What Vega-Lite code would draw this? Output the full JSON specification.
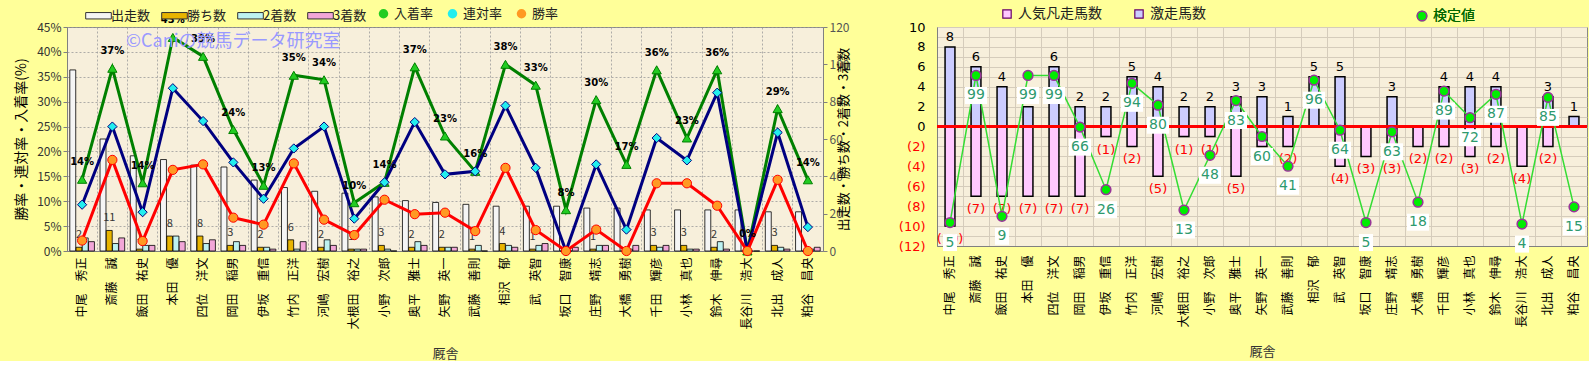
{
  "$schema": "https://vega.github.io/schema/vega-lite/v6.json",
  "background": "#FFFF99",
  "padding": {"left": 14, "top": 6, "right": 0, "bottom": 0},
  "config": {
    "font": "Noto Sans CJK JP",
    "view": {"fill": "#F7EFDB", "stroke": "#888888"},
    "axis": {"domainColor": "#808080", "tickColor": "#808080", "labelFont": "Noto Sans CJK JP", "titleFont": "Noto Sans CJK JP", "titleFontWeight": "normal", "labelOverlap": false},
    "legend": {"labelFont": "Noto Sans CJK JP", "labelFontSize": 13, "labelColor": "#222222"}
  },
  "datasets": {
    "L": [
      {"t": "中尾　秀正", "出走数": 97, "勝ち数": 2, "2着数": 7, "3着数": 5, "勝率": 2.1, "連対率": 9.3, "入着率": 14.4, "lab": "14%"},
      {"t": "斎藤　誠", "出走数": 60, "勝ち数": 11, "2着数": 4, "3着数": 7, "勝率": 18.3, "連対率": 25.0, "入着率": 36.7, "lab": "37%"},
      {"t": "飯田　祐史", "出走数": 51, "勝ち数": 1, "2着数": 3, "3着数": 3, "勝率": 2.0, "連対率": 7.8, "入着率": 13.7, "lab": "14%"},
      {"t": "本田　優", "出走数": 49, "勝ち数": 8, "2着数": 8, "3着数": 5, "勝率": 16.3, "連対率": 32.7, "入着率": 42.9, "lab": "43%"},
      {"t": "四位　洋文", "出走数": 46, "勝ち数": 8, "2着数": 4, "3着数": 6, "勝率": 17.4, "連対率": 26.1, "入着率": 39.1, "lab": "39%"},
      {"t": "岡田　稲男", "出走数": 45, "勝ち数": 3, "2着数": 5, "3着数": 3, "勝率": 6.7, "連対率": 17.8, "入着率": 24.4, "lab": "24%"},
      {"t": "伊坂　重信", "出走数": 38, "勝ち数": 2, "2着数": 2, "3着数": 1, "勝率": 5.3, "連対率": 10.5, "入着率": 13.2, "lab": "13%"},
      {"t": "竹内　正洋", "出走数": 34, "勝ち数": 6, "2着数": 1, "3着数": 5, "勝率": 17.6, "連対率": 20.6, "入着率": 35.3, "lab": "35%"},
      {"t": "河嶋　宏樹", "出走数": 32, "勝ち数": 2, "2着数": 6, "3着数": 3, "勝率": 6.3, "連対率": 25.0, "入着率": 34.4, "lab": "34%"},
      {"t": "大根田　裕之", "出走数": 31, "勝ち数": 1, "2着数": 1, "3着数": 1, "勝率": 3.2, "連対率": 6.5, "入着率": 9.7, "lab": "10%"},
      {"t": "小野　次郎", "出走数": 29, "勝ち数": 3, "2着数": 1, "3着数": 0, "勝率": 10.3, "連対率": 13.8, "入着率": 13.8, "lab": "14%"},
      {"t": "奥平　雅士", "出走数": 27, "勝ち数": 2, "2着数": 5, "3着数": 3, "勝率": 7.4, "連対率": 25.9, "入着率": 37.0, "lab": "37%"},
      {"t": "矢野　英一", "出走数": 26, "勝ち数": 2, "2着数": 2, "3着数": 2, "勝率": 7.7, "連対率": 15.4, "入着率": 23.1, "lab": "23%"},
      {"t": "武藤　善則", "出走数": 25, "勝ち数": 1, "2着数": 3, "3着数": 0, "勝率": 4.0, "連対率": 16.0, "入着率": 16.0, "lab": "16%"},
      {"t": "相沢　郁", "出走数": 24, "勝ち数": 4, "2着数": 3, "3着数": 2, "勝率": 16.7, "連対率": 29.2, "入着率": 37.5, "lab": "38%"},
      {"t": "武　英智", "出走数": 24, "勝ち数": 1, "2着数": 3, "3着数": 4, "勝率": 4.2, "連対率": 16.7, "入着率": 33.3, "lab": "33%"},
      {"t": "坂口　智康", "出走数": 24, "勝ち数": 0, "2着数": 0, "3着数": 2, "勝率": 0, "連対率": 0, "入着率": 8.3, "lab": "8%"},
      {"t": "庄野　靖志", "出走数": 23, "勝ち数": 1, "2着数": 3, "3着数": 3, "勝率": 4.3, "連対率": 17.4, "入着率": 30.4, "lab": "30%"},
      {"t": "大橋　勇樹", "出走数": 23, "勝ち数": 0, "2着数": 1, "3着数": 3, "勝率": 0, "連対率": 4.3, "入着率": 17.4, "lab": "17%"},
      {"t": "千田　輝彦", "出走数": 22, "勝ち数": 3, "2着数": 2, "3着数": 3, "勝率": 13.6, "連対率": 22.7, "入着率": 36.4, "lab": "36%"},
      {"t": "小林　真也", "出走数": 22, "勝ち数": 3, "2着数": 1, "3着数": 1, "勝率": 13.6, "連対率": 18.2, "入着率": 22.7, "lab": "23%"},
      {"t": "鈴木　伸尋", "出走数": 22, "勝ち数": 2, "2着数": 5, "3着数": 1, "勝率": 9.1, "連対率": 31.8, "入着率": 36.4, "lab": "36%"},
      {"t": "長谷川　浩大", "出走数": 22, "勝ち数": 0, "2着数": 0, "3着数": 0, "勝率": 0, "連対率": 0, "入着率": 0, "lab": "0%"},
      {"t": "北出　成人", "出走数": 21, "勝ち数": 3, "2着数": 2, "3着数": 1, "勝率": 14.3, "連対率": 23.8, "入着率": 28.6, "lab": "29%"},
      {"t": "粕谷　昌央", "出走数": 21, "勝ち数": 0, "2着数": 1, "3着数": 2, "勝率": 0, "連対率": 4.8, "入着率": 14.3, "lab": "14%"}
    ],
    "R": [
      {"t": "中尾　秀正", "激走馬数": 8, "人気凡走馬数": -10, "検定値": 5},
      {"t": "斎藤　誠", "激走馬数": 6, "人気凡走馬数": -7, "検定値": 99},
      {"t": "飯田　祐史", "激走馬数": 4, "人気凡走馬数": -7, "検定値": 9},
      {"t": "本田　優", "激走馬数": 2, "人気凡走馬数": -7, "検定値": 99},
      {"t": "四位　洋文", "激走馬数": 6, "人気凡走馬数": -7, "検定値": 99},
      {"t": "岡田　稲男", "激走馬数": 2, "人気凡走馬数": -7, "検定値": 66},
      {"t": "伊坂　重信", "激走馬数": 2, "人気凡走馬数": -1, "検定値": 26},
      {"t": "竹内　正洋", "激走馬数": 5, "人気凡走馬数": -2, "検定値": 94},
      {"t": "河嶋　宏樹", "激走馬数": 4, "人気凡走馬数": -5, "検定値": 80},
      {"t": "大根田　裕之", "激走馬数": 2, "人気凡走馬数": -1, "検定値": 13},
      {"t": "小野　次郎", "激走馬数": 2, "人気凡走馬数": -1, "検定値": 48},
      {"t": "奥平　雅士", "激走馬数": 3, "人気凡走馬数": -5, "検定値": 83},
      {"t": "矢野　英一", "激走馬数": 3, "人気凡走馬数": -2, "検定値": 60},
      {"t": "武藤　善則", "激走馬数": 1, "人気凡走馬数": -2, "検定値": 41},
      {"t": "相沢　郁", "激走馬数": 5, "人気凡走馬数": 0, "検定値": 96},
      {"t": "武　英智", "激走馬数": 5, "人気凡走馬数": -4, "検定値": 64},
      {"t": "坂口　智康", "激走馬数": 0, "人気凡走馬数": -3, "検定値": 5},
      {"t": "庄野　靖志", "激走馬数": 3, "人気凡走馬数": -3, "検定値": 63},
      {"t": "大橋　勇樹", "激走馬数": 0, "人気凡走馬数": -2, "検定値": 18},
      {"t": "千田　輝彦", "激走馬数": 4, "人気凡走馬数": -2, "検定値": 89},
      {"t": "小林　真也", "激走馬数": 4, "人気凡走馬数": -3, "検定値": 72},
      {"t": "鈴木　伸尋", "激走馬数": 4, "人気凡走馬数": -2, "検定値": 87},
      {"t": "長谷川　浩大", "激走馬数": 0, "人気凡走馬数": -4, "検定値": 4},
      {"t": "北出　成人", "激走馬数": 3, "人気凡走馬数": -2, "検定値": 85},
      {"t": "粕谷　昌央", "激走馬数": 1, "人気凡走馬数": 0, "検定値": 15}
    ],
    "W": [
      {"t": "岡田　稲男", "y": 42, "text": "©Caniの競馬データ研究室"}
    ]
  },
  "spacing": 45,
  "resolve": {
    "scale": {"x": "independent", "y": "independent", "fill": "independent", "stroke": "independent", "shape": "independent"},
    "legend": {"fill": "independent", "stroke": "independent", "shape": "independent"}
  },
  "hconcat": [
    {
      "width": 756,
      "height": 224,
      "data": {"name": "L"},
      "resolve": {"scale": {"y": "independent", "fill": "independent"}, "legend": {"fill": "independent"}},
      "layer": [
        {
          "layer": [
            {
              "transform": [{"fold": ["出走数", "勝ち数", "2着数", "3着数"], "as": ["series", "count"]}],
              "mark": {"type": "bar", "stroke": "#000000", "strokeWidth": 0.8},
              "encoding": {
                "x": {
                  "field": "t", "type": "nominal", "sort": null, "title": "厩舎",
                  "scale": {"paddingInner": 0, "paddingOuter": 0},
                  "axis": {"labelAngle": 270, "labelFontSize": 12, "labelColor": "#000000", "labelPadding": 6, "ticks": false, "grid": true, "bandPosition": 0, "gridColor": "#9A9A9A", "gridDash": [2, 2], "gridWidth": 0.8, "titleFontSize": 13, "titleColor": "#333333", "titlePadding": 18, "labelOverlap": false}
                },
                "xOffset": {"field": "series", "type": "nominal", "scale": {"domain": ["出走数", "勝ち数", "2着数", "3着数"], "paddingInner": 0.05, "paddingOuter": 0.45}},
                "y": {
                  "field": "count", "type": "quantitative", "title": "出走数・勝ち数・2着数・3着数",
                  "scale": {"domain": [0, 120]},
                  "axis": {"orient": "right", "values": [0, 20, 40, 60, 80, 100, 120], "labelOverlap": false, "grid": false, "titleAngle": 270, "titleFontSize": 13, "titleColor": "#000000", "labelFontSize": 12, "labelColor": "#555555", "titlePadding": 2, "tickSize": 4}
                },
                "fill": {
                  "field": "series", "type": "nominal",
                  "scale": {"domain": ["出走数", "勝ち数", "2着数", "3着数"], "range": ["#F5F5F5", "#E8B400", "#BDF2F2", "#F2A6D8"]},
                  "legend": {"title": null, "orient": "none", "direction": "horizontal", "legendX": 23, "legendY": -20, "symbolType": "M-1.6,-0.4H1.6V0.4H-1.6Z", "symbolSize": 256, "symbolStrokeColor": "#333333", "symbolStrokeWidth": 1, "columnPadding": 8, "labelFontSize": 13}
                }
              }
            },
            {
              "transform": [{"filter": "datum['勝ち数'] > 0"}],
              "mark": {"type": "text", "baseline": "bottom", "dy": -7, "fontSize": 11, "color": "#333333"},
              "encoding": {
                "x": {"field": "t", "type": "nominal", "sort": null, "title": "厩舎"},
                "xOffset": {"datum": "勝ち数"},
                "y": {
                  "field": "勝ち数", "type": "quantitative", "title": "出走数・勝ち数・2着数・3着数",
                  "axis": {"orient": "right", "values": [0, 20, 40, 60, 80, 100, 120], "labelOverlap": false, "grid": false, "titleAngle": 270, "titleFontSize": 13, "titleColor": "#000000", "labelFontSize": 12, "labelColor": "#555555", "titlePadding": 2, "tickSize": 4}
                },
                "text": {"field": "勝ち数", "type": "quantitative", "format": "d"}
              }
            }
          ]
        },
        {
          "layer": [
            {
              "transform": [{"fold": ["入着率", "連対率", "勝率"], "as": ["rs", "rate"]}],
              "mark": {"type": "line", "strokeWidth": 3},
              "encoding": {
                "x": {"field": "t", "type": "nominal", "sort": null, "title": "厩舎"},
                "y": {
                  "field": "rate", "type": "quantitative", "title": "勝率・連対率・入着率(%)",
                  "scale": {"domain": [0, 45]},
                  "axis": {"orient": "left", "values": [0, 5, 10, 15, 20, 25, 30, 35, 40, 45], "labelOverlap": false, "labelExpr": "datum.value + '%'", "grid": true, "gridColor": "#9A9A9A", "gridDash": [2, 2], "gridWidth": 0.8, "labelFontSize": 12, "labelColor": "#333333", "titleFontSize": 14, "titleColor": "#000000", "titlePadding": 8, "tickSize": 4}
                },
                "stroke": {
                  "field": "rs", "type": "nominal",
                  "scale": {"domain": ["入着率", "連対率", "勝率"], "range": ["#008000", "#000080", "#FF0000"]},
                  "legend": null
                }
              }
            },
            {
              "transform": [{"fold": ["入着率", "連対率", "勝率"], "as": ["rs", "rate"]}],
              "mark": {"type": "point", "filled": false, "opacity": 1, "strokeWidth": 1, "size": 85},
              "encoding": {
                "x": {"field": "t", "type": "nominal", "sort": null, "title": "厩舎"},
                "y": {
                  "field": "rate", "type": "quantitative", "title": "勝率・連対率・入着率(%)",
                  "axis": {"orient": "left", "values": [0, 5, 10, 15, 20, 25, 30, 35, 40, 45], "labelOverlap": false, "labelExpr": "datum.value + '%'", "grid": true, "gridColor": "#9A9A9A", "gridDash": [2, 2], "gridWidth": 0.8, "labelFontSize": 12, "labelColor": "#333333", "titleFontSize": 14, "titleColor": "#000000", "titlePadding": 8, "tickSize": 4}
                },
                "stroke": {"field": "rs", "type": "nominal", "legend": {"title": null, "orient": "none", "direction": "horizontal", "legendX": 310, "legendY": -20, "symbolSize": 90, "symbolStrokeWidth": 1.5, "columnPadding": 12, "labelFontSize": 13}},
                "fill": {
                  "field": "rs", "type": "nominal",
                  "scale": {"domain": ["入着率", "連対率", "勝率"], "range": ["#22CC22", "#22EEEE", "#FF9922"]},
                  "legend": {"title": null, "orient": "none", "direction": "horizontal", "legendX": 310, "legendY": -20, "symbolSize": 90, "symbolStrokeWidth": 1.5, "columnPadding": 12, "labelFontSize": 13}
                },
                "shape": {
                  "field": "rs", "type": "nominal",
                  "scale": {"domain": ["入着率", "連対率", "勝率"], "range": ["triangle-up", "diamond", "circle"]},
                  "legend": {"title": null, "orient": "none", "direction": "horizontal", "legendX": 310, "legendY": -20, "symbolSize": 90, "symbolStrokeWidth": 1.5, "columnPadding": 12, "labelFontSize": 13}
                }
              }
            },
            {
              "mark": {"type": "text", "baseline": "middle", "dy": -17, "fontSize": 10, "fontWeight": "bold", "color": "#000000", "font": "DejaVu Sans"},
              "encoding": {
                "x": {"field": "t", "type": "nominal", "sort": null, "title": "厩舎"},
                "y": {
                  "field": "入着率", "type": "quantitative", "title": "勝率・連対率・入着率(%)",
                  "axis": {"orient": "left", "values": [0, 5, 10, 15, 20, 25, 30, 35, 40, 45], "labelOverlap": false, "labelExpr": "datum.value + '%'", "grid": true, "gridColor": "#9A9A9A", "gridDash": [2, 2], "gridWidth": 0.8, "labelFontSize": 12, "labelColor": "#333333", "titleFontSize": 14, "titleColor": "#000000", "titlePadding": 8, "tickSize": 4}
                },
                "text": {"field": "lab", "type": "nominal"}
              }
            },
            {
              "data": {"name": "W"},
              "mark": {"type": "text", "baseline": "middle", "fontSize": 18, "color": "#9999FF"},
              "encoding": {
                "x": {"field": "t", "type": "nominal", "sort": null, "title": "厩舎"},
                "y": {
                  "field": "y", "type": "quantitative", "title": "勝率・連対率・入着率(%)",
                  "axis": {"orient": "left", "values": [0, 5, 10, 15, 20, 25, 30, 35, 40, 45], "labelOverlap": false, "labelExpr": "datum.value + '%'", "grid": true, "gridColor": "#9A9A9A", "gridDash": [2, 2], "gridWidth": 0.8, "labelFontSize": 12, "labelColor": "#333333", "titleFontSize": 14, "titleColor": "#000000", "titlePadding": 8, "tickSize": 4}
                },
                "text": {"field": "text", "type": "nominal"}
              }
            }
          ]
        }
      ]
    },
    {
      "width": 650,
      "height": 219,
      "data": {"name": "R"},
      "resolve": {"scale": {"y": "independent", "fill": "independent", "stroke": "independent"}, "legend": {"fill": "independent", "stroke": "independent"}},
      "layer": [
        {
          "layer": [
            {
              "transform": [{"fold": ["人気凡走馬数", "激走馬数"], "as": ["kind", "v"]}, {"filter": "datum.v != 0"}],
              "mark": {"type": "bar", "width": {"band": 0.38}, "stroke": "#000000", "strokeWidth": 1.5},
              "encoding": {
                "x": {
                  "field": "t", "type": "nominal", "sort": null, "title": "厩舎",
                  "scale": {"paddingInner": 0, "paddingOuter": 0},
                  "axis": {"labelAngle": 270, "labelFontSize": 12, "labelColor": "#000000", "labelPadding": 9, "ticks": false, "grid": true, "bandPosition": 0, "gridColor": "#D5CCBB", "gridWidth": 1, "titleFontSize": 13, "titleColor": "#333333", "titlePadding": 18, "labelOverlap": false}
                },
                "y": {
                  "field": "v", "type": "quantitative", "title": null,
                  "scale": {"domain": [-12, 10]},
                  "axis": {"orient": "left", "values": [-12, -11, -10, -9, -8, -7, -6, -5, -4, -3, -2, -1, 0, 1, 2, 3, 4, 5, 6, 7, 8, 9, 10], "labelOverlap": false, "labelExpr": "datum.value % 2 != 0 ? '' : (datum.value < 0 ? '(' + (-datum.value) + ')' : '' + datum.value)", "labelColor": {"condition": {"test": "datum.value < 0", "value": "#FF0000"}, "value": "#000000"}, "grid": true, "gridColor": "#D5CCBB", "ticks": false, "labelFontSize": 13, "labelPadding": 12, "labelFont": "DejaVu Sans"}
                },
                "fill": {
                  "field": "kind", "type": "nominal",
                  "scale": {"domain": ["人気凡走馬数", "激走馬数"], "range": ["#FFC8FF", "#CCCCFF"]},
                  "legend": {"title": null, "orient": "none", "direction": "horizontal", "legendX": 63, "legendY": -20, "symbolType": "square", "symbolSize": 70, "symbolStrokeColor": "#660066", "symbolStrokeWidth": 1.2, "columnPadding": 30, "labelFontSize": 14}
                }
              }
            },
            {
              "mark": {"type": "rule", "color": "#FF0000", "strokeWidth": 3},
              "encoding": {
                "y": {
                  "datum": 0, "title": null,
                  "axis": {"orient": "left", "values": [-12, -11, -10, -9, -8, -7, -6, -5, -4, -3, -2, -1, 0, 1, 2, 3, 4, 5, 6, 7, 8, 9, 10], "labelOverlap": false, "labelExpr": "datum.value % 2 != 0 ? '' : (datum.value < 0 ? '(' + (-datum.value) + ')' : '' + datum.value)", "labelColor": {"condition": {"test": "datum.value < 0", "value": "#FF0000"}, "value": "#000000"}, "grid": true, "gridColor": "#D5CCBB", "ticks": false, "labelFontSize": 13, "labelPadding": 12, "labelFont": "DejaVu Sans"}
                }
              }
            },
            {
              "transform": [{"filter": "datum['激走馬数'] > 0"}],
              "mark": {"type": "text", "baseline": "bottom", "dy": -3, "fontSize": 13, "color": "#000000", "font": "DejaVu Sans"},
              "encoding": {
                "x": {"field": "t", "type": "nominal", "sort": null, "title": "厩舎"},
                "y": {
                  "field": "激走馬数", "type": "quantitative", "title": null,
                  "axis": {"orient": "left", "values": [-12, -11, -10, -9, -8, -7, -6, -5, -4, -3, -2, -1, 0, 1, 2, 3, 4, 5, 6, 7, 8, 9, 10], "labelOverlap": false, "labelExpr": "datum.value % 2 != 0 ? '' : (datum.value < 0 ? '(' + (-datum.value) + ')' : '' + datum.value)", "labelColor": {"condition": {"test": "datum.value < 0", "value": "#FF0000"}, "value": "#000000"}, "grid": true, "gridColor": "#D5CCBB", "ticks": false, "labelFontSize": 13, "labelPadding": 12, "labelFont": "DejaVu Sans"}
                },
                "text": {"field": "激走馬数", "type": "quantitative", "format": "d"}
              }
            },
            {
              "transform": [{"filter": "datum['人気凡走馬数'] < 0"}],
              "mark": {"type": "text", "baseline": "top", "dy": 7, "fontSize": 13, "color": "#FF0000", "font": "DejaVu Sans"},
              "encoding": {
                "x": {"field": "t", "type": "nominal", "sort": null, "title": "厩舎"},
                "y": {
                  "field": "人気凡走馬数", "type": "quantitative", "title": null,
                  "axis": {"orient": "left", "values": [-12, -11, -10, -9, -8, -7, -6, -5, -4, -3, -2, -1, 0, 1, 2, 3, 4, 5, 6, 7, 8, 9, 10], "labelOverlap": false, "labelExpr": "datum.value % 2 != 0 ? '' : (datum.value < 0 ? '(' + (-datum.value) + ')' : '' + datum.value)", "labelColor": {"condition": {"test": "datum.value < 0", "value": "#FF0000"}, "value": "#000000"}, "grid": true, "gridColor": "#D5CCBB", "ticks": false, "labelFontSize": 13, "labelPadding": 12, "labelFont": "DejaVu Sans"}
                },
                "text": {"field": "人気凡走馬数", "type": "quantitative", "format": "(d"}
              }
            }
          ]
        },
        {
          "layer": [
            {
              "transform": [{"fold": ["検定値"], "as": ["ks", "kv"]}],
              "mark": {"type": "line", "strokeWidth": 1.5},
              "encoding": {
                "x": {"field": "t", "type": "nominal", "sort": null, "title": "厩舎"},
                "y": {"field": "kv", "type": "quantitative", "scale": {"domain": [-3.4, 121.75]}, "axis": null},
                "stroke": {"field": "ks", "type": "nominal", "scale": {"range": ["#33DD33"]}, "legend": {"title": null, "orient": "none", "legendX": 478, "legendY": -18, "symbolType": "circle", "symbolSize": 90, "labelFontSize": 14, "labelColor": "#006600"}}
              }
            },
            {
              "transform": [{"fold": ["検定値"], "as": ["ks", "kv"]}],
              "mark": {"type": "point", "filled": true, "opacity": 1, "size": 95, "stroke": "#993399", "strokeWidth": 1.5},
              "encoding": {
                "x": {"field": "t", "type": "nominal", "sort": null, "title": "厩舎"},
                "y": {"field": "kv", "type": "quantitative", "axis": null},
                "fill": {"field": "ks", "type": "nominal", "scale": {"range": ["#00EE00"]}, "legend": {"title": null, "orient": "none", "legendX": 478, "legendY": -18, "symbolType": "circle", "symbolSize": 90, "labelFontSize": 14, "labelColor": "#006600"}}
              }
            },
            {
              "mark": {"type": "point", "filled": true, "opacity": 1, "color": "#FFFFFF", "size": 400, "yOffset": 20},
              "encoding": {
                "x": {"field": "t", "type": "nominal", "sort": null, "title": "厩舎"},
                "y": {"field": "検定値", "type": "quantitative", "axis": null},
                "shape": {"condition": {"test": "datum['検定値'] < 10", "value": "M-0.7,-0.85H0.7V0.85H-0.7Z"}, "value": "M-1.1,-0.85H1.1V0.85H-1.1Z"}
              }
            },
            {
              "mark": {"type": "text", "baseline": "middle", "yOffset": 20, "fontSize": 14, "color": "#2E9A6E", "font": "DejaVu Sans"},
              "encoding": {
                "x": {"field": "t", "type": "nominal", "sort": null, "title": "厩舎"},
                "y": {"field": "検定値", "type": "quantitative", "axis": null},
                "text": {"field": "検定値", "type": "quantitative", "format": "d"}
              }
            }
          ]
        }
      ]
    }
  ]
}
